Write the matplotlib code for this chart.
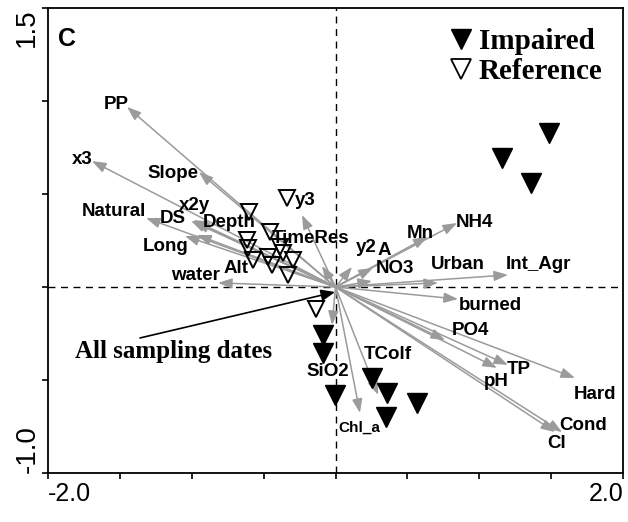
import numpy as np
import matplotlib
matplotlib.use("Agg")
import matplotlib.pyplot as plt
from matplotlib.lines import Line2D
from matplotlib import font_manager

# Environmental variables (arrow tips, biplot scores)
env_names = ["PP", "x3", "Slope", "Natural", "DS", "x2y", "Depth", "Long", "Alt",
             "water", "y3", "TimeRes", "y2", "A", "NO3", "Mn", "NH4", "Urban",
             "Int_Agr", "burned", "PO4", "pH", "TP", "Hard", "Cond", "Cl",
             "TColf", "Chl_a", "SiO2"]
env_x = [-1.45, -1.694, -0.95, -1.318, -1.005, -0.99, -0.977, -1.047, -0.963,
         -0.817, -0.233, -0.094, 0.115, 0.26, 0.254, 0.64, 0.845, 0.713,
         1.2, 0.852, 0.762, 1.123, 1.2, 1.666, 1.576, 1.527,
         0.296, 0.170, -0.024]
env_y = [0.968, 0.677, 0.618, 0.371, 0.355, 0.36, 0.35, 0.274, 0.28,
         0.022, 0.387, 0.113, 0.108, 0.102, 0.032, 0.27, 0.344, 0.022,
         0.065, -0.065, -0.285, -0.435, -0.419, -0.489, -0.78, -0.78,
         -0.58, -0.677, -0.204]

# Site scores
ref_x = [-0.602, -0.337, -0.456, -0.616, -0.609, -0.574, -0.47, -0.386,
         -0.365, -0.442, -0.296, -0.33, -0.136]
ref_y = [0.403, 0.478, 0.296, 0.253, 0.21, 0.145, 0.161, 0.215,
         0.183, 0.118, 0.145, 0.065, -0.118]
imp_x = [1.485, 1.158, 1.36, -0.087, -0.087, -0.003, 0.254, 0.358, 0.567, 0.351]
imp_y = [0.828, 0.694, 0.559, -0.258, -0.355, -0.581, -0.489, -0.57, -0.624, -0.699]

# label placement relative to arrow tip (pixels)
label_offset = {
    "PP": (-11, 2), "x3": (-10, 2), "Slope": (-26, -1), "Natural": (-32, 6),
    "DS": (-18, 2), "x2y": (1, 15), "Depth": (34, -1), "Long": (-19, -10),
    "Alt": (39, -34), "water": (-23, 7), "y3": (3, 15), "TimeRes": (-11, 27),
    "y2": (14, 19), "A": (11, 18), "NO3": (23, 13), "Mn": (-7, 3),
    "NH4": (17, 1), "Urban": (20, 18), "Int_Agr": (30, 10), "burned": (32, -6),
    "PO4": (25, 10), "pH": (-1, -14), "TP": (11, -5), "Hard": (20, -17),
    "Cond": (21, 7), "Cl": (2, -11), "TColf": (10, 40), "Chl_a": (-1, -15),
    "SiO2": (-4, -47),
}

names = {f.name for f in font_manager.fontManager.ttflist}
narrow = "Liberation Sans Narrow" if "Liberation Sans Narrow" in names else "Liberation Sans"
grey = "#9b9b9b"

fig = plt.figure(figsize=(6.28, 5.22), dpi=100)
ax = fig.add_axes([48 / 628, 49 / 522, 575 / 628, 465 / 522])
ax.set_xlim(-2.0, 2.0)
ax.set_ylim(-1.0, 1.5)

ax.axhline(0, color="k", ls=(0, (5, 4)), lw=1.0, zorder=1)
ax.axvline(0, color="k", ls=(0, (5, 4)), lw=1.0, zorder=1)

# arrows
for name, x, y in zip(env_names, env_x, env_y):
    ax.annotate("", xy=(x, y), xytext=(0, 0),
                arrowprops=dict(arrowstyle="-|>,head_length=0.6,head_width=0.22",
                                color=grey, lw=1.1, shrinkA=0, shrinkB=0,
                                mutation_scale=14),
                zorder=2)
    dx, dy = label_offset[name]
    if name == "Chl_a":
        fam, size = "Liberation Sans", 11
    else:
        fam, size = narrow, 13.5
    ax.annotate(name, xy=(x, y), xytext=(dx, dy), textcoords="offset pixels",
                ha="center", va="center", fontsize=size, fontweight="bold",
                family=fam, zorder=4)

# sites
ax.plot(imp_x, imp_y, "v", color="k", ms=14, ls="", zorder=3)
ax.plot(ref_x, ref_y, "v", mfc="none", mec="k", mew=1.4, ms=12, ls="", zorder=3)

# all sampling dates pointer
ax.annotate("", xy=(-0.003, -0.027), xytext=(-1.36, -0.274),
            arrowprops=dict(arrowstyle="-|>,head_length=0.6,head_width=0.25",
                            color="k", lw=1.2, shrinkA=0, shrinkB=0,
                            mutation_scale=14),
            zorder=5)
ax.text(-1.13, -0.345, "All sampling dates", ha="center", va="center",
        fontsize=18, fontweight="bold", family="Liberation Serif")

ax.text(0.017, 0.959, "C", transform=ax.transAxes, ha="left", va="top",
        fontsize=18, fontweight="bold", family="Liberation Sans")

handles = [Line2D([], [], marker="v", ls="", color="k", ms=14),
           Line2D([], [], marker="v", ls="", mfc="none", mec="k", mew=1.3, ms=14)]
ax.legend(handles, ["Impaired", "Reference"], loc="upper right",
          frameon=False, prop=dict(family="Liberation Serif", weight="bold", size=21),
          handlelength=0.6, handletextpad=0.3, labelspacing=0.1, borderaxespad=0.3)

# axes and ticks
xt = np.arange(-2.0, 2.01, 0.5)
ax.set_xticks(xt, ["-2.0"] + [""] * (len(xt) - 2) + ["2.0"])
yt = np.arange(-1.0, 1.51, 0.5)
ax.set_yticks(yt, ["-1.0"] + [""] * (len(yt) - 2) + ["1.5"])
ax.tick_params(direction="out", length=4.5, width=1.2, labelsize=20)
ax.tick_params(axis="x", pad=2, labelsize=18)
ax.tick_params(axis="y", pad=1)
for s in ax.spines.values():
    s.set_linewidth(1.3)

xl = ax.get_xticklabels()
for lab in xl:
    lab.set_family(narrow)
xl[0].set_ha("left")
xl[-1].set_ha("right")
yl = ax.get_yticklabels()
for lab in yl:
    lab.set_family("Liberation Sans")
    lab.set_rotation(90)
yl[0].set_va("bottom")
yl[-1].set_va("top")

fig.savefig("out.png", dpi=100)
